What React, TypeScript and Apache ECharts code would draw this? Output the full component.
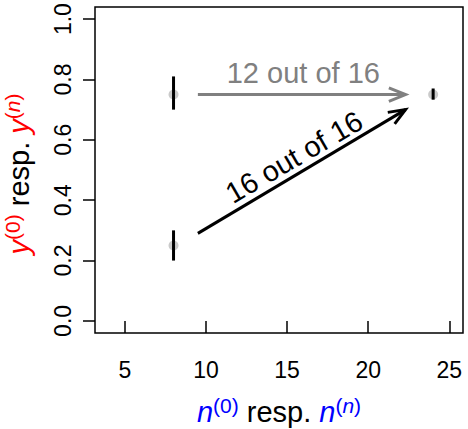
import React, { useEffect, useRef } from "react";
import * as echarts from "echarts";

const xTicks = [5, 10, 15, 20, 25];
const yTicks = [0, 0.2, 0.4, 0.6, 0.8, 1.0];
const xRange = [3.16, 25.84];
const yRange = [-0.04, 1.04];

// gray points (n, y)
const pointX = [8, 8, 24];
const pointY = [0.75, 0.25, 0.75];
// vertical black bars (n, low, high)
const barX = [8, 8, 24];
const barLo = [0.70, 0.20, 0.733];
const barHi = [0.81, 0.30, 0.77];
// arrows
const arrowFrom = [[9.5, 0.75], [9.5, 0.29]];
const arrowTo = [[22.3, 0.75], [22.3, 0.70]];
const arrowColors = ["#808080", "#000000"];
// annotation texts
const noteText = ["12 out of 16", "16 out of 16"];
const notePos = [[16.0, 0.82], [15.43, 0.543]];
const noteRot = [0, 30.2];
const noteColors = ["#808080", "#000000"];

const FONT = "Liberation Sans";

function richFor(color: string) {
  return {
    m: { fontSize: 29, lineHeight: 34, fontStyle: "italic", fill: color, fontFamily: FONT },
    r: { fontSize: 29, lineHeight: 34, fill: "#000", fontFamily: FONT },
    s: { fontSize: 21, fill: color, verticalAlign: "top", fontFamily: FONT },
    si: { fontSize: 21, fontStyle: "italic", fill: color, verticalAlign: "top", fontFamily: FONT },
  };
}

export default function App() {
  const ref = useRef<HTMLDivElement>(null);
  useEffect(() => {
    if (!ref.current) return;
    const chart = echarts.init(ref.current, null, { renderer: "svg" });
    const option: any = {
      animation: false,
      backgroundColor: "#ffffff",
      textStyle: { fontFamily: FONT },
      grid: {
        left: 95,
        top: 7,
        right: 5,
        bottom: 96,
        show: true,
        borderColor: "#000",
        borderWidth: 1.5,
        backgroundColor: "transparent",
      },
      xAxis: {
        type: "value",
        min: xRange[0],
        max: xRange[1],
        axisLine: { show: false },
        splitLine: { show: false },
        axisTick: {
          show: true,
          length: 12,
          customValues: xTicks,
          lineStyle: { color: "#000", width: 1.5 },
        },
        axisLabel: {
          customValues: xTicks,
          fontSize: 23,
          color: "#000",
          margin: 25,
          fontFamily: FONT,
        },
      },
      yAxis: {
        type: "value",
        min: yRange[0],
        max: yRange[1],
        axisLine: { show: false },
        splitLine: { show: false },
        axisTick: {
          show: true,
          length: 12,
          customValues: yTicks,
          lineStyle: { color: "#000", width: 1.5 },
        },
        axisLabel: {
          customValues: yTicks,
          fontSize: 23,
          color: "#000",
          margin: 21,
          rotate: 90,
          fontFamily: FONT,
          formatter: (v: number) => v.toFixed(1),
        },
      },
      series: [
        {
          type: "scatter",
          data: pointX.map((x, i) => [x, pointY[i]]),
          symbol: "circle",
          symbolSize: 10,
          itemStyle: { color: "#bdbdbd" },
          z: 2,
        },
        {
          type: "custom",
          data: barX.map((x, i) => [x, barLo[i], barHi[i]]),
          z: 3,
          renderItem: (params: any, api: any) => {
            const p1 = api.coord([api.value(0), api.value(1)]);
            const p2 = api.coord([api.value(0), api.value(2)]);
            return {
              type: "line",
              shape: { x1: p1[0], y1: p1[1], x2: p2[0], y2: p2[1] },
              style: { stroke: "#000", lineWidth: 3 },
            };
          },
        },
        {
          type: "custom",
          data: arrowFrom.map((f, i) => [f[0], f[1], arrowTo[i][0], arrowTo[i][1]]),
          z: 4,
          renderItem: (params: any, api: any) => {
            const i = params.dataIndex;
            const a = api.coord([api.value(0), api.value(1)]);
            const b = api.coord([api.value(2), api.value(3)]);
            const th = Math.atan2(b[1] - a[1], b[0] - a[0]);
            const L = 18;
            const ang = (22 * Math.PI) / 180;
            const h1 = [b[0] - L * Math.cos(th - ang), b[1] - L * Math.sin(th - ang)];
            const h2 = [b[0] - L * Math.cos(th + ang), b[1] - L * Math.sin(th + ang)];
            const c = arrowColors[i];
            return {
              type: "group",
              children: [
                {
                  type: "line",
                  shape: { x1: a[0], y1: a[1], x2: b[0], y2: b[1] },
                  style: { stroke: c, lineWidth: 3 },
                },
                {
                  type: "polyline",
                  shape: { points: [h1, b, h2] },
                  style: { stroke: c, lineWidth: 3, fill: "none" },
                },
              ],
            };
          },
        },
        {
          type: "custom",
          data: notePos.map((p) => [p[0], p[1]]),
          z: 5,
          renderItem: (params: any, api: any) => {
            const i = params.dataIndex;
            const p = api.coord([api.value(0), api.value(1)]);
            return {
              type: "text",
              x: p[0],
              y: p[1],
              rotation: (noteRot[i] * Math.PI) / 180,
              style: {
                text: noteText[i],
                fill: noteColors[i],
                fontSize: 29,
                fontFamily: FONT,
                align: "center",
                verticalAlign: "middle",
              },
            };
          },
        },
      ],
      graphic: [
        {
          type: "text",
          x: 279,
          y: 412,
          style: {
            text: "{m|n}{s|(0)}{r| resp. }{m|n}{s|(}{si|n}{s|)}",
            align: "center",
            verticalAlign: "middle",
            fontSize: 29,
            fontFamily: FONT,
            rich: richFor("#0000ff"),
          },
        },
        {
          type: "text",
          x: 19,
          y: 174,
          rotation: Math.PI / 2,
          style: {
            text: "{m|y}{s|(0)}{r| resp. }{m|y}{s|(}{si|n}{s|)}",
            align: "center",
            verticalAlign: "middle",
            fontSize: 29,
            fontFamily: FONT,
            rich: richFor("#ff0000"),
          },
        },
      ],
    };
    chart.setOption(option);
    return () => chart.dispose();
  }, []);
  return (
    <div
      ref={ref}
      style={{ position: "absolute", left: 0, top: 0, width: 468, height: 429 }}
    />
  );
}
